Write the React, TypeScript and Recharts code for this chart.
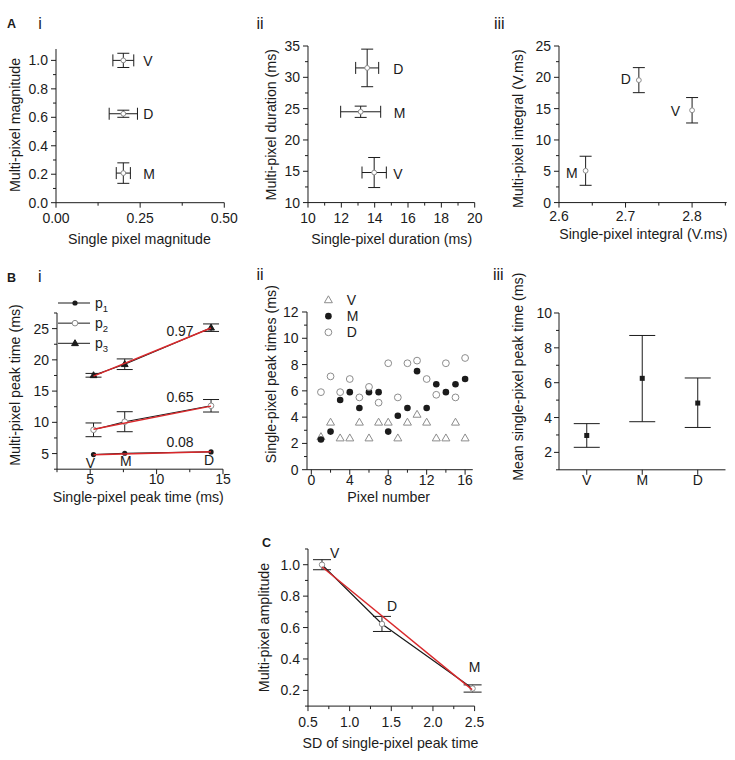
import React from 'react';
import { ScatterChart, Scatter, XAxis, YAxis, ErrorBar, Legend } from 'recharts';

const FONT = '"Liberation Sans", Arial, Helvetica, sans-serif';
const INK = '#1b1b1b';
const GRAY = '#8c8c8c';
const RED = '#d9282b';

// ---------- Panel A i ----------
const magnitudeNames = ['V', 'D', 'M'];
const singleMagnitude = [0.2, 0.2, 0.2];
const singleMagnitudeErr = [0.031, 0.042, 0.021];
const multiMagnitude = [1.0, 0.625, 0.208];
const multiMagnitudeErr = [0.05, 0.025, 0.072];

// ---------- Panel A ii ----------
const durationNames = ['D', 'M', 'V'];
const singleDuration = [13.55, 13.16, 13.97];
const singleDurationErr = [0.69, 1.2, 0.73];
const multiDuration = [31.5, 24.5, 14.8];
const multiDurationErr = [3.0, 0.9, 2.4];

// ---------- Panel A iii ----------
const integralNames = ['D', 'V', 'M'];
const singleIntegral = [2.72, 2.8, 2.64];
const multiIntegral = [19.55, 14.74, 5.08];
const multiIntegralErr = [2.0, 2.03, 2.32];

// ---------- Panel B i ----------
const peakNames = ['V', 'M', 'D'];
const peakSeries = ['p1', 'p2', 'p3'];
const singlePeak = [5.25, 7.6, 14.1];
const p1Peak = [4.84, 5.05, 5.27];
const p2Peak = [8.8, 10.1, 12.65];
const p2Err = [1.1, 1.6, 1.0];
const p3Peak = [17.53, 19.3, 25.15];
const p3Err = [0.3, 0.85, 0.6];
const fitX = [5.25, 14.1];
const p1Fit = [4.8, 5.3];
const p2Fit = [8.9, 12.6];
const p3Fit = [17.4, 25.1];
const fitValues = ['0.97', '0.65', '0.08'];

// ---------- Panel B ii ----------
const pixelSeries = ['V', 'M', 'D'];
const pixelNumbers = [1, 2, 3, 4, 5, 6, 7, 8, 9, 10, 11, 12, 13, 14, 15, 16];
const vPeak = [2.5, 3.6, 2.4, 2.4, 3.6, 2.4, 3.6, 3.6, 2.4, 3.6, 4.2, 3.6, 2.4, 2.4, 3.6, 2.4];
const mPeak = [2.3, 2.9, 5.3, 5.9, 4.7, 5.9, 5.9, 2.9, 4.1, 4.7, 7.5, 4.7, 6.5, 5.9, 6.5, 6.9];
const dPeak = [5.9, 7.1, 5.9, 6.9, 5.5, 6.3, 5.1, 8.1, 5.5, 8.1, 8.3, 6.9, 5.7, 8.1, 5.5, 8.5];

// ---------- Panel B iii ----------
const meanNames = ['V', 'M', 'D'];
const meanPeak = [2.97, 6.25, 4.83];
const meanLow = [2.29, 3.76, 3.43];
const meanHigh = [3.65, 8.71, 6.27];

// ---------- Panel C ----------
const sdNames = ['V', 'D', 'M'];
const sdPeak = [0.668, 1.388, 2.476];
const amplitude = [1.0, 0.623, 0.212];
const amplitudeErr = [0.032, 0.048, 0.023];
const sdFitX = [0.67, 2.47];
const sdFitY = [0.985, 0.205];

// ---------- tick specs ----------
type TickSpec = { major: number[]; labels: string[]; minor: number[]; gap: number };
const aiX: TickSpec = { major: [0, 0.25, 0.5], labels: ['0.00', '0.25', '0.50'], minor: [0.125, 0.375], gap: 20.4 };
const aiY: TickSpec = { major: [0, 0.2, 0.4, 0.6, 0.8, 1.0], labels: ['0.0', '0.2', '0.4', '0.6', '0.8', '1.0'], minor: [0.1, 0.3, 0.5, 0.7, 0.9], gap: 8 };
const aiiX: TickSpec = { major: [10, 12, 14, 16, 18, 20], labels: ['10', '12', '14', '16', '18', '20'], minor: [11, 13, 15, 17, 19], gap: 20.4 };
const aiiY: TickSpec = { major: [10, 15, 20, 25, 30, 35], labels: ['10', '15', '20', '25', '30', '35'], minor: [12.5, 17.5, 22.5, 27.5, 32.5], gap: 8 };
const aiiiX: TickSpec = { major: [2.6, 2.7, 2.8], labels: ['2.6', '2.7', '2.8'], minor: [2.65, 2.75, 2.85], gap: 18.8 };
const aiiiY: TickSpec = { major: [0, 5, 10, 15, 20, 25], labels: ['0', '5', '10', '15', '20', '25'], minor: [2.5, 7.5, 12.5, 17.5, 22.5], gap: 8 };
const biX: TickSpec = { major: [5, 10, 15], labels: ['5', '10', '15'], minor: [2.5, 7.5, 12.5], gap: 15 };
const biY: TickSpec = { major: [5, 10, 15, 20, 25], labels: ['5', '10', '15', '20', '25'], minor: [2.5, 7.5, 12.5, 17.5, 22.5, 27.5], gap: 8 };
const biiX: TickSpec = { major: [0, 4, 8, 12, 16], labels: ['0', '4', '8', '12', '16'], minor: [2, 6, 10, 14], gap: 15.2 };
const biiY: TickSpec = { major: [0, 2, 4, 6, 8, 10, 12], labels: ['0', '2', '4', '6', '8', '10', '12'], minor: [1, 3, 5, 7, 9, 11], gap: 8.5 };
const biiiY: TickSpec = { major: [2, 4, 6, 8, 10], labels: ['2', '4', '6', '8', '10'], minor: [1, 3, 5, 7, 9], gap: 7 };
const cX: TickSpec = { major: [0.5, 1, 1.5, 2, 2.5], labels: ['0.5', '1.0', '1.5', '2.0', '2.5'], minor: [0.75, 1.25, 1.75, 2.25], gap: 21 };
const cY: TickSpec = { major: [0.2, 0.4, 0.6, 0.8, 1.0], labels: ['0.2', '0.4', '0.6', '0.8', '1.0'], minor: [0.1, 0.3, 0.5, 0.7, 0.9, 1.1], gap: 8 };

// ---------- data tables ----------
const aiData = magnitudeNames.map((name, i) => ({ name, x: singleMagnitude[i], y: multiMagnitude[i], ex: singleMagnitudeErr[i], ey: multiMagnitudeErr[i] }));
const aiiData = durationNames.map((name, i) => ({ name, x: singleDuration[i], y: multiDuration[i], ex: singleDurationErr[i], ey: multiDurationErr[i] }));
const aiiiData = integralNames.map((name, i) => ({ name, x: singleIntegral[i], y: multiIntegral[i], ey: multiIntegralErr[i] }));
const p1Data = peakNames.map((name, i) => ({ name, x: singlePeak[i], y: p1Peak[i] }));
const p2Data = peakNames.map((name, i) => ({ name, x: singlePeak[i], y: p2Peak[i], ey: p2Err[i] }));
const p3Data = peakNames.map((name, i) => ({ name, x: singlePeak[i], y: p3Peak[i], ey: p3Err[i] }));
const p1FitData = fitX.map((x, i) => ({ x, y: p1Fit[i] }));
const p2FitData = fitX.map((x, i) => ({ x, y: p2Fit[i] }));
const p3FitData = fitX.map((x, i) => ({ x, y: p3Fit[i] }));
const vData = pixelNumbers.map((x, i) => ({ x, y: vPeak[i] }));
const mData = pixelNumbers.map((x, i) => ({ x, y: mPeak[i] }));
const dData = pixelNumbers.map((x, i) => ({ x, y: dPeak[i] }));
const meanData = meanNames.map((name, i) => ({ name, y: meanPeak[i], ey: [meanPeak[i] - meanLow[i], meanHigh[i] - meanPeak[i]] }));
const cData = sdNames.map((name, i) => ({ name, x: sdPeak[i], y: amplitude[i], ey: amplitudeErr[i] }));
const cFitData = sdFitX.map((x, i) => ({ x, y: sdFitY[i] }));

// ---------- helpers ----------
const allTicks = (s: TickSpec) => [...s.major, ...s.minor].sort((a, b) => a - b);
const labelOf = (s: TickSpec, v: number) => {
  const i = s.major.findIndex((m) => Math.abs(m - v) < 1e-9);
  return i >= 0 ? s.labels[i] : null;
};

const bottomTick = (s: TickSpec) => (props: any) => {
  const { x, y, payload } = props;
  const lab = labelOf(s, Number(payload.value));
  return (
    <g>
      <line x1={x} x2={x} y1={y} y2={y + (lab === null ? 3 : 5)} stroke={INK} strokeWidth={1} />
      {lab !== null && (
        <text x={x} y={y + s.gap} textAnchor="middle" fontSize={14} fontFamily={FONT} fill={INK}>{lab}</text>
      )}
    </g>
  );
};

const leftTick = (s: TickSpec) => (props: any) => {
  const { x, y, payload } = props;
  const lab = labelOf(s, Number(payload.value));
  return (
    <g>
      <line x1={x - (lab === null ? 3 : 5)} x2={x} y1={y} y2={y} stroke={INK} strokeWidth={1} />
      {lab !== null && (
        <text x={x - s.gap} y={y + 5} textAnchor="end" fontSize={14} fontFamily={FONT} fill={INK}>{lab}</text>
      )}
    </g>
  );
};

const categoryTick = (gap: number) => (props: any) => {
  const { x, y, payload } = props;
  return (
    <g>
      <line x1={x} x2={x} y1={y} y2={y + 5} stroke={INK} strokeWidth={1} />
      <text x={x} y={y + gap} textAnchor="middle" fontSize={14} fontFamily={FONT} fill={INK}>{payload.value}</text>
    </g>
  );
};

type Marker = (cx: number, cy: number) => React.ReactNode;
type LabelOffset = { dx: number; dy: number; anchor: 'start' | 'middle' | 'end' };

const openCircle = (r: number): Marker => (cx, cy) => <circle cx={cx} cy={cy} r={r} fill="#fff" stroke={GRAY} strokeWidth={1} />;
const dot = (r: number): Marker => (cx, cy) => <circle cx={cx} cy={cy} r={r} fill={INK} />;
const triangle = (s: number, filled: boolean): Marker => (cx, cy) => (
  <path
    d={`M${cx},${cy - s} L${cx + s * 0.95},${cy + s * 0.65} L${cx - s * 0.95},${cy + s * 0.65} Z`}
    fill={filled ? INK : 'none'}
    stroke={filled ? INK : GRAY}
    strokeWidth={1}
  />
);
const square = (s: number): Marker => (cx, cy) => <rect x={cx - s / 2} y={cy - s / 2} width={s} height={s} fill={INK} />;

const shapeOf = (marker: Marker, offsets?: Record<string, LabelOffset>) => (props: any) => {
  const { cx, cy, payload } = props;
  const o = offsets && payload ? offsets[payload.name] : undefined;
  return (
    <g>
      {marker(cx, cy)}
      {o && (
        <text x={cx + o.dx} y={cy + o.dy} textAnchor={o.anchor} fontSize={14} fontFamily={FONT} fill={INK}>{payload.name}</text>
      )}
    </g>
  );
};
const noMarker = () => <g />;

const aiOffsets: Record<string, LabelOffset> = {
  V: { dx: 20, dy: 6, anchor: 'start' },
  D: { dx: 20, dy: 5.5, anchor: 'start' },
  M: { dx: 20, dy: 6, anchor: 'start' },
};
const aiiOffsets: Record<string, LabelOffset> = {
  D: { dx: 26, dy: 6.5, anchor: 'start' },
  M: { dx: 33, dy: 6.5, anchor: 'start' },
  V: { dx: 19, dy: 6, anchor: 'start' },
};
const aiiiOffsets: Record<string, LabelOffset> = {
  D: { dx: -8, dy: 4, anchor: 'end' },
  V: { dx: -12, dy: 6, anchor: 'end' },
  M: { dx: -8, dy: 7, anchor: 'end' },
};
const biOffsets: Record<string, LabelOffset> = {
  V: { dx: -3, dy: 13, anchor: 'middle' },
  M: { dx: 1, dy: 13, anchor: 'middle' },
  D: { dx: -2, dy: 13, anchor: 'middle' },
};
const cOffsets: Record<string, LabelOffset> = {
  V: { dx: 8, dy: -7, anchor: 'start' },
  D: { dx: 5, dy: -12.5, anchor: 'start' },
  M: { dx: 2, dy: -16.5, anchor: 'middle' },
};

// ---------- layout ----------
const YW = 50;
const MT = 12;
const MR = 14;
const XH = 40;
const MARGIN = { top: MT, right: MR, bottom: 0, left: 0 };
type Rect = { l: number; t: number; r: number; b: number };
const frameOf = (p: Rect) => ({
  left: p.l - YW,
  top: p.t - MT,
  width: YW + (p.r - p.l) + MR,
  height: MT + (p.b - p.t) + XH,
});
const posOf = (f: { left: number; top: number; width: number; height: number }): React.CSSProperties => ({
  position: 'absolute',
  left: f.left,
  top: f.top,
  width: f.width,
  height: f.height,
});

const fAi = frameOf({ l: 55.7, t: 48.6, r: 224, b: 202.3 });
const fAii = frameOf({ l: 308.3, t: 45.7, r: 475, b: 202.3 });
const fAiii = frameOf({ l: 559, t: 45.7, r: 726.7, b: 202.3 });
const fBi = frameOf({ l: 56.7, t: 313.4, r: 222.7, b: 469.6 });
const fBii = frameOf({ l: 306.9, t: 312.3, r: 472.7, b: 470 });
const fBiii = frameOf({ l: 559, t: 313.3, r: 725.5, b: 470.1 });
const fC = frameOf({ l: 307.7, t: 549.3, r: 474.3, b: 706.4 });

const AXIS = { stroke: INK, strokeWidth: 1 };

const biMarkers: Record<string, Marker> = { p1: dot(2.6), p2: openCircle(2.8), p3: triangle(3.6, true) };
const biiMarkers: Record<string, Marker> = { V: triangle(4.2, false), M: dot(3.3), D: openCircle(3.4) };

const orderBy = (order: string[], payload: any[]) =>
  order.map((name) => payload.find((e: any) => e.value === name)).filter(Boolean);

const biLegend = (props: any) => {
  const items = orderBy(peakSeries, props.payload || []);
  return (
    <svg width={60} height={62} style={{ display: 'block', overflow: 'visible' }}>
      {items.map((e: any, i: number) => (
        <g key={e.value} transform={`translate(0, ${10 + i * 20.15})`}>
          <line x1={2} x2={34} y1={0} y2={0} stroke={INK} strokeWidth={1} />
          {biMarkers[e.value](19, 0)}
          <text x={39} y={4.5} fontSize={14} fontFamily={FONT} fill={INK}>
            p<tspan dy={4} fontSize={9.5}>{e.value.slice(1)}</tspan>
          </text>
        </g>
      ))}
    </svg>
  );
};

const biiLegend = (props: any) => {
  const items = orderBy(pixelSeries, props.payload || []);
  return (
    <svg width={50} height={50} style={{ display: 'block', overflow: 'visible' }}>
      {items.map((e: any, i: number) => (
        <g key={e.value} transform={`translate(0, ${8 + i * 16.15})`}>
          {biiMarkers[e.value](9.4, 0)}
          <text x={27.8} y={5} fontSize={14} fontFamily={FONT} fill={INK}>{e.value}</text>
        </g>
      ))}
    </svg>
  );
};

const T = (p: { x: number; y: number; children: React.ReactNode; anchor?: 'start' | 'middle' | 'end'; size?: number; weight?: string; rot?: boolean }) => (
  <text
    x={p.x}
    y={p.y}
    textAnchor={p.anchor || 'middle'}
    fontSize={p.size || 14.2}
    fontWeight={p.weight || 'normal'}
    fontFamily={FONT}
    fill={INK}
    transform={p.rot ? `rotate(-90 ${p.x} ${p.y})` : undefined}
  >
    {p.children}
  </text>
);

export default function App() {
  return (
    <div style={{ position: 'absolute', left: 0, top: 0, width: 735, height: 760, background: '#fff', overflow: 'hidden', fontFamily: FONT }}>
      {/* A i */}
      <div style={posOf(fAi)}>
        <ScatterChart width={fAi.width} height={fAi.height} margin={MARGIN}>
          <XAxis type="number" dataKey="x" domain={[0, 0.5]} ticks={allTicks(aiX)} tick={bottomTick(aiX)} tickSize={0} tickMargin={0} interval={0} height={XH} axisLine={AXIS} tickLine={false} />
          <YAxis type="number" dataKey="y" domain={[0, 1.08]} ticks={allTicks(aiY)} tick={leftTick(aiY)} tickSize={0} tickMargin={0} interval={0} width={YW} axisLine={AXIS} tickLine={false} />
          <Scatter name="A i" data={aiData} shape={shapeOf(openCircle(2.4), aiOffsets)} isAnimationActive={false}>
            <ErrorBar dataKey="ex" direction="x" width={6} stroke={INK} strokeWidth={1} />
            <ErrorBar dataKey="ey" direction="y" width={6} stroke={INK} strokeWidth={1} />
          </Scatter>
        </ScatterChart>
      </div>

      {/* A ii */}
      <div style={posOf(fAii)}>
        <ScatterChart width={fAii.width} height={fAii.height} margin={MARGIN}>
          <XAxis type="number" dataKey="x" domain={[10, 20]} ticks={allTicks(aiiX)} tick={bottomTick(aiiX)} tickSize={0} tickMargin={0} interval={0} height={XH} axisLine={AXIS} tickLine={false} />
          <YAxis type="number" dataKey="y" domain={[10, 35]} ticks={allTicks(aiiY)} tick={leftTick(aiiY)} tickSize={0} tickMargin={0} interval={0} width={YW} axisLine={AXIS} tickLine={false} />
          <Scatter name="A ii" data={aiiData} shape={shapeOf(openCircle(2.4), aiiOffsets)} isAnimationActive={false}>
            <ErrorBar dataKey="ex" direction="x" width={6} stroke={INK} strokeWidth={1} />
            <ErrorBar dataKey="ey" direction="y" width={6} stroke={INK} strokeWidth={1} />
          </Scatter>
        </ScatterChart>
      </div>

      {/* A iii */}
      <div style={posOf(fAiii)}>
        <ScatterChart width={fAiii.width} height={fAiii.height} margin={MARGIN}>
          <XAxis type="number" dataKey="x" domain={[2.6, 2.852]} ticks={allTicks(aiiiX)} tick={bottomTick(aiiiX)} tickSize={0} tickMargin={0} interval={0} height={XH} axisLine={AXIS} tickLine={false} />
          <YAxis type="number" dataKey="y" domain={[0, 25]} ticks={allTicks(aiiiY)} tick={leftTick(aiiiY)} tickSize={0} tickMargin={0} interval={0} width={YW} axisLine={AXIS} tickLine={false} />
          <Scatter name="A iii" data={aiiiData} shape={shapeOf(openCircle(2.4), aiiiOffsets)} isAnimationActive={false}>
            <ErrorBar dataKey="ey" direction="y" width={6} stroke={INK} strokeWidth={1} />
          </Scatter>
        </ScatterChart>
      </div>

      {/* B i */}
      <div style={posOf(fBi)}>
        <ScatterChart width={fBi.width} height={fBi.height} margin={MARGIN}>
          <XAxis type="number" dataKey="x" domain={[2.5, 15]} ticks={allTicks(biX)} tick={bottomTick(biX)} tickSize={0} tickMargin={0} interval={0} height={XH} axisLine={AXIS} tickLine={false} />
          <YAxis type="number" dataKey="y" domain={[2.5, 27.5]} ticks={allTicks(biY)} tick={leftTick(biY)} tickSize={0} tickMargin={0} interval={0} width={YW} axisLine={AXIS} tickLine={false} />
          <Legend layout="vertical" verticalAlign="middle" align="center" content={biLegend} wrapperStyle={{ left: 49.3, top: -8.7, width: 60, height: 62, margin: 0, padding: 0 }} />
          <Scatter name="p1" data={p1Data} line={{ stroke: INK, strokeWidth: 1.1 }} shape={shapeOf(biMarkers.p1, biOffsets)} isAnimationActive={false} />
          <Scatter name="p2" data={p2Data} line={{ stroke: INK, strokeWidth: 1.1 }} shape={shapeOf(biMarkers.p2)} isAnimationActive={false}>
            <ErrorBar dataKey="ey" direction="y" width={8} stroke={INK} strokeWidth={1} />
          </Scatter>
          <Scatter name="p3" data={p3Data} line={{ stroke: INK, strokeWidth: 1.1 }} shape={shapeOf(biMarkers.p3)} isAnimationActive={false}>
            <ErrorBar dataKey="ey" direction="y" width={8} stroke={INK} strokeWidth={1} />
          </Scatter>
          <Scatter name="fit1" legendType="none" data={p1FitData} line={{ stroke: RED, strokeWidth: 1.4 }} shape={noMarker} isAnimationActive={false} />
          <Scatter name="fit2" legendType="none" data={p2FitData} line={{ stroke: RED, strokeWidth: 1.4 }} shape={noMarker} isAnimationActive={false} />
          <Scatter name="fit3" legendType="none" data={p3FitData} line={{ stroke: RED, strokeWidth: 1.4 }} shape={noMarker} isAnimationActive={false} />
        </ScatterChart>
      </div>

      {/* B ii */}
      <div style={posOf(fBii)}>
        <ScatterChart width={fBii.width} height={fBii.height} margin={MARGIN}>
          <XAxis type="number" dataKey="x" domain={[-0.45, 16.8]} ticks={allTicks(biiX)} tick={bottomTick(biiX)} tickSize={0} tickMargin={0} interval={0} height={XH} axisLine={AXIS} tickLine={false} allowDataOverflow />
          <YAxis type="number" dataKey="y" domain={[0, 12]} ticks={allTicks(biiY)} tick={leftTick(biiY)} tickSize={0} tickMargin={0} interval={0} width={YW} axisLine={AXIS} tickLine={false} />
          <Legend layout="vertical" verticalAlign="middle" align="center" content={biiLegend} wrapperStyle={{ left: 62, top: -8.3, width: 50, height: 50, margin: 0, padding: 0 }} />
          <Scatter name="V" data={vData} shape={shapeOf(biiMarkers.V)} isAnimationActive={false} />
          <Scatter name="M" data={mData} shape={shapeOf(biiMarkers.M)} isAnimationActive={false} />
          <Scatter name="D" data={dData} shape={shapeOf(biiMarkers.D)} isAnimationActive={false} />
        </ScatterChart>
      </div>

      {/* B iii */}
      <div style={posOf(fBiii)}>
        <ScatterChart width={fBiii.width} height={fBiii.height} margin={MARGIN}>
          <XAxis type="category" dataKey="name" allowDuplicatedCategory={false} tick={categoryTick(15.5)} tickSize={0} tickMargin={0} interval={0} height={XH} axisLine={AXIS} tickLine={false} />
          <YAxis type="number" dataKey="y" domain={[1, 10]} ticks={allTicks(biiiY)} tick={leftTick(biiiY)} tickSize={0} tickMargin={0} interval={0} width={YW} axisLine={AXIS} tickLine={false} />
          <Scatter name="mean" data={meanData} shape={shapeOf(square(5))} isAnimationActive={false}>
            <ErrorBar dataKey="ey" direction="y" width={13} stroke={INK} strokeWidth={1} />
          </Scatter>
        </ScatterChart>
      </div>

      {/* C */}
      <div style={posOf(fC)}>
        <ScatterChart width={fC.width} height={fC.height} margin={MARGIN}>
          <XAxis type="number" dataKey="x" domain={[0.5, 2.5]} ticks={allTicks(cX)} tick={bottomTick(cX)} tickSize={0} tickMargin={0} interval={0} height={XH} axisLine={AXIS} tickLine={false} />
          <YAxis type="number" dataKey="y" domain={[0.1, 1.1]} ticks={allTicks(cY)} tick={leftTick(cY)} tickSize={0} tickMargin={0} interval={0} width={YW} axisLine={AXIS} tickLine={false} />
          <Scatter name="amplitude" data={cData} line={{ stroke: INK, strokeWidth: 1.2 }} shape={shapeOf(openCircle(2.7), cOffsets)} isAnimationActive={false}>
            <ErrorBar dataKey="ey" direction="y" width={9} stroke={INK} strokeWidth={1} />
          </Scatter>
          <Scatter name="fit" legendType="none" data={cFitData} line={{ stroke: RED, strokeWidth: 1.4 }} shape={noMarker} isAnimationActive={false} />
        </ScatterChart>
      </div>

      {/* text overlay: panel letters, axis titles, fit values */}
      <svg width={735} height={760} style={{ position: 'absolute', left: 0, top: 0, pointerEvents: 'none' }}>
        <T x={7} y={28} anchor="start" size={12.5} weight="bold">A</T>
        <T x={38.3} y={29} anchor="start" size={16}>i</T>
        <T x={256.5} y={29} anchor="start" size={16}>ii</T>
        <T x={494} y={29} anchor="start" size={16}>iii</T>
        <T x={7} y={281.7} anchor="start" size={12.5} weight="bold">B</T>
        <T x={38} y={281.7} anchor="start" size={16}>i</T>
        <T x={256.5} y={280} anchor="start" size={16}>ii</T>
        <T x={493} y={280} anchor="start" size={16}>iii</T>
        <T x={262} y={547} anchor="start" size={12.5} weight="bold">C</T>

        <T x={139.5} y={243.5}>Single pixel magnitude</T>
        <T x={20} y={125} rot>Multi-pixel magnitude</T>
        <T x={391.7} y={243.5}>Single-pixel duration (ms)</T>
        <T x={276} y={124.7} rot>Multi-pixel duration (ms)</T>
        <T x={643.3} y={238.5}>Single-pixel integral (V.ms)</T>
        <T x={523.5} y={128.7} rot>Multi-pixel integral (V.ms)</T>

        <T x={138.3} y={501.5}>Single-pixel peak time (ms)</T>
        <T x={20} y={385} rot>Multi-pixel peak time (ms)</T>
        <T x={388.7} y={502}>Pixel number</T>
        <T x={276} y={374.2} rot>Single-pixel peak times (ms)</T>
        <T x={522.7} y={376.7} rot>Mean single-pixel peak time (ms)</T>

        <T x={390.5} y={748.3}>SD of single-pixel peak time</T>
        <T x={269.3} y={627.5} rot>Multi-pixel amplitude</T>

        <T x={180} y={336} size={14}>{fitValues[0]}</T>
        <T x={180} y={402} size={14}>{fitValues[1]}</T>
        <T x={180} y={447} size={14}>{fitValues[2]}</T>
      </svg>
    </div>
  );
}
